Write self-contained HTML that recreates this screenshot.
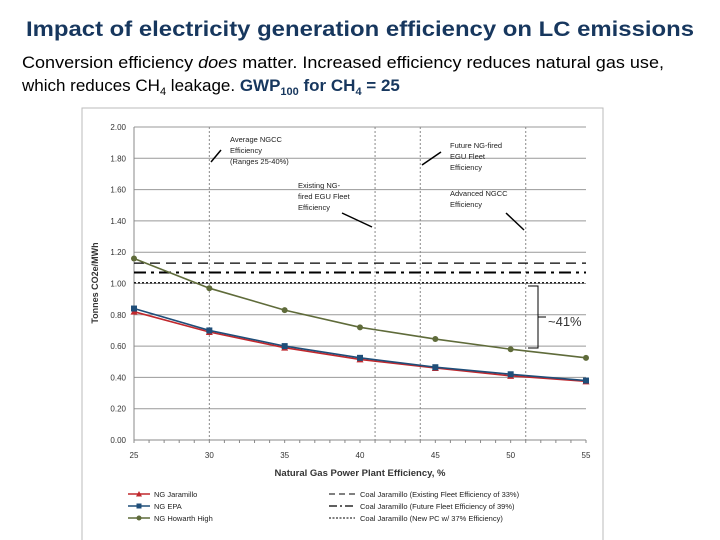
<!DOCTYPE html>
<html><head><meta charset="utf-8"><style>
body{margin:0;background:#fff;}
svg{display:block;font-family:"Liberation Sans",sans-serif;}
</style></head><body>
<svg id="chart" width="720" height="540" xmlns="http://www.w3.org/2000/svg">
<text x="26" y="36" font-size="21" font-weight="bold" fill="#17375e" textLength="668" lengthAdjust="spacingAndGlyphs">Impact of electricity generation efficiency on LC emissions</text>
<text x="22" y="68" font-size="17" fill="#000" textLength="642" lengthAdjust="spacingAndGlyphs">Conversion efficiency <tspan font-style="italic">does</tspan> matter. Increased efficiency reduces natural gas use,</text>
<text x="22" y="91" font-size="17" fill="#000">which reduces CH<tspan font-size="11" dy="4">4</tspan><tspan dy="-4"> leakage. </tspan><tspan font-weight="bold" fill="#17375e">GWP<tspan font-size="11" dy="4">100</tspan><tspan dy="-4"> for CH</tspan><tspan font-size="11" dy="4">4</tspan><tspan dy="-4"> = 25</tspan></tspan></text>
<rect x="82" y="108" width="521" height="440" fill="#fff" stroke="#bbb"/>
<g id="plot"></g>
</svg>
<script>
const xTicks=[25,30,35,40,45,50,55];
const yTicks=[0,0.2,0.4,0.6,0.8,1.0,1.2,1.4,1.6,1.8,2.0];
const effX=[25,30,35,40,45,50,55];
const ngJaramillo=[0.82,0.69,0.59,0.515,0.46,0.41,0.375];
const ngEPA=[0.84,0.70,0.60,0.525,0.465,0.42,0.38];
const ngHowarth=[1.16,0.97,0.83,0.72,0.645,0.58,0.525];
const coalExisting=1.13;
const coalFuture=1.07;
const coalNew=1.005;
const refEff=[30,41,44,51];
const NS="http://www.w3.org/2000/svg";
const X0=134,X1=586,Y0=440,Y1=127;
const sx=v=>X0+(v-25)/30*(X1-X0);
const sy=v=>Y0-(v/2)*(Y0-Y1);
const g=document.getElementById('plot');
function mk(t,a,p){const e=document.createElementNS(NS,t);for(const k in a)e.setAttribute(k,a[k]);(p||g).appendChild(e);return e;}
yTicks.forEach(t=>{
 const l=mk('line',{x1:X0,x2:X1,y1:sy(t),y2:sy(t),stroke:t===0?'#888':'#999','stroke-width':1});
 
 
 const tx=mk('text',{x:X0-8,y:sy(t)+3,'font-size':8,fill:'#333','text-anchor':'end'});
 tx.textContent=t.toFixed(2);
 
 
});
mk('line',{x1:X0,x2:X0,y1:Y1,y2:Y0,stroke:'#888'});
for(let v=25;v<=55;v++){mk('line',{x1:sx(v),x2:sx(v),y1:Y0,y2:Y0+3,stroke:'#888'});}
xTicks.forEach(t=>{
 const tx=mk('text',{x:sx(t),y:Y0+18,'font-size':8,fill:'#333','text-anchor':'middle'});
 tx.textContent=t;
 
 
});
refEff.forEach(v=>{
 const l=mk('line',{x1:sx(v),x2:sx(v),y1:Y1,y2:Y0,stroke:'#888','stroke-dasharray':'2,2'});
 
 
});
[[coalExisting,'10,6',1.3,'coal-existing-line'],[coalFuture,'12,5,3,5',2,'coal-future-line'],[coalNew,'2,2',1.2,'coal-new-line']].forEach(c=>{
 const l=mk('line',{x1:X0,x2:X1,y1:sy(c[0]),y2:sy(c[0]),stroke:'#000','stroke-dasharray':c[1],'stroke-width':c[2]});
 
 
});
function series(vals,color,marker,name){
 const pts=vals.map((v,i)=>sx(effX[i])+','+sy(v)).join(' ');
 const pl=mk('polyline',{points:pts,fill:'none',stroke:color,'stroke-width':1.6});
 
 
 vals.forEach((v,i)=>{
  const x=sx(effX[i]),y=sy(v);let m;
  if(marker==='sq')m=mk('rect',{x:x-3,y:y-3,width:6,height:6,fill:color});
  else if(marker==='tri')m=mk('polygon',{points:`${x},${y-3.5} ${x-3.5},${y+3} ${x+3.5},${y+3}`,fill:color});
  else m=mk('circle',{cx:x,cy:y,r:3,fill:color});
  
  
 });
}
series(ngHowarth,'#5f6b3a','circ','ng-howarth-high');
series(ngJaramillo,'#c0282d','tri','ng-jaramillo');
series(ngEPA,'#1f4e79','sq','ng-epa');
// annotations
const ann=[[230,142,['Average NGCC','Efficiency','(Ranges 25-40%)']],[298,188,['Existing NG-','fired EGU Fleet','Efficiency']],[450,148,['Future NG-fired','EGU Fleet','Efficiency']],[450,196,['Advanced NGCC','Efficiency']]];
ann.forEach(a=>{a[2].forEach((s,i)=>{const t=mk('text',{x:a[0],y:a[1]+i*11,'font-size':7.5,fill:'#222'});t.textContent=s;
 
 });});
[[211,162,221,150],[342,213,372,227],[422,165,441,152],[506,213,524,230]].forEach(l=>mk('line',{x1:l[0],y1:l[1],x2:l[2],y2:l[3],stroke:'#000','stroke-width':1.5}));
mk('path',{d:'M528,286 L538,286 L538,348 L528,348 M538,317 L546,317',fill:'none',stroke:'#000','stroke-width':1});
const pct=mk('text',{x:548,y:326,'font-size':13,fill:'#333'});pct.textContent='~41%';


const yt=mk('text',{transform:'translate(98,283) rotate(-90)','font-size':9,'font-weight':'bold',fill:'#333','text-anchor':'middle'});yt.textContent='Tonnes CO2e/MWh';


const xt=mk('text',{x:360,y:476,'font-size':9.5,'font-weight':'bold',fill:'#333','text-anchor':'middle'});xt.textContent='Natural Gas Power Plant Efficiency, %';


// legend
const leg=[[128,494,'#c0282d','tri','NG Jaramillo'],[128,506,'#1f4e79','sq','NG EPA'],[128,518,'#5f6b3a','circ','NG Howarth High']];
leg.forEach(l=>{mk('line',{x1:l[0],x2:l[0]+22,y1:l[1],y2:l[1],stroke:l[2],'stroke-width':1.5});
 const c=l[0]+11;
 if(l[3]==='tri')mk('polygon',{points:`${c},${l[1]-3} ${c-3},${l[1]+2.5} ${c+3},${l[1]+2.5}`,fill:l[2]});
 else if(l[3]==='sq')mk('rect',{x:c-2.5,y:l[1]-2.5,width:5,height:5,fill:l[2]});
 else mk('circle',{cx:c,cy:l[1],r:2.5,fill:l[2]});
 const t=mk('text',{x:l[0]+26,y:l[1]+3,'font-size':7.5,fill:'#222'});t.textContent=l[4];
 
 });
const leg2=[[494,'6,4',1,'Coal Jaramillo (Existing Fleet Efficiency of 33%)'],[506,'8,3,2,3',1.3,'Coal Jaramillo (Future Fleet Efficiency of 39%)'],[518,'2,1.5',1,'Coal Jaramillo (New PC w/ 37% Efficiency)']];
leg2.forEach(l=>{mk('line',{x1:329,x2:355,y1:l[0],y2:l[0],stroke:'#000','stroke-dasharray':l[1],'stroke-width':l[2]});
 const t=mk('text',{x:360,y:l[0]+3,'font-size':7.5,fill:'#222'});t.textContent=l[3];
 
 });
</script>
</body></html>
